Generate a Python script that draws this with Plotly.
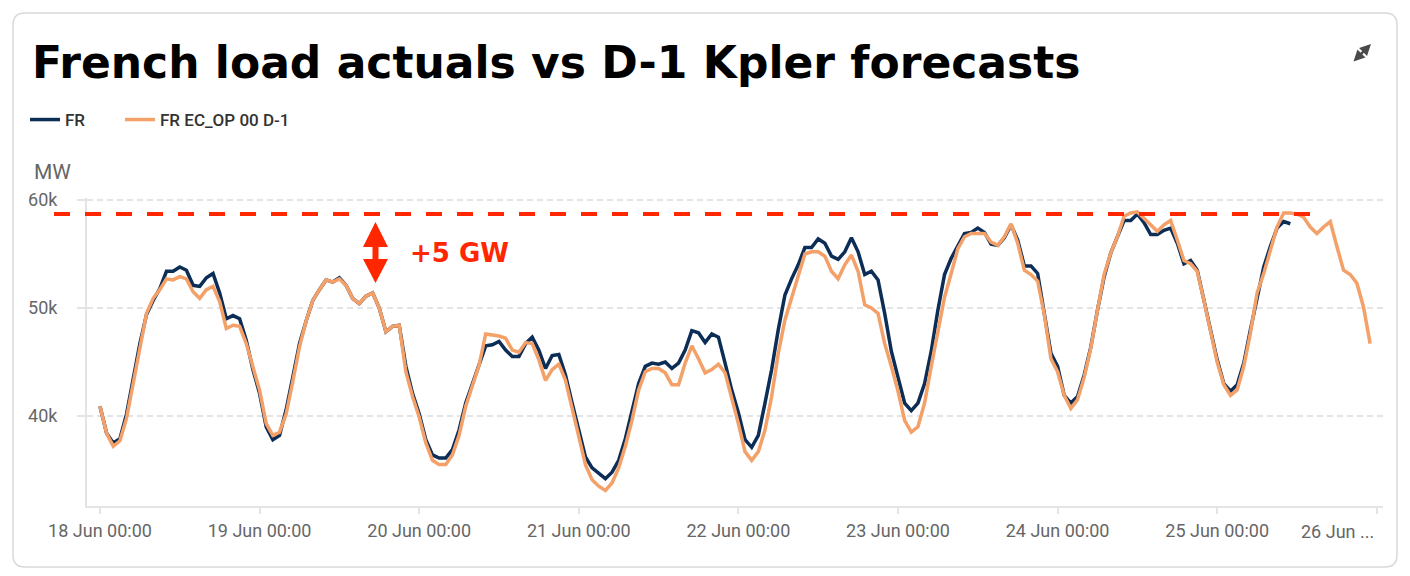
import pandas as pd
import plotly.graph_objects as go

# ---------------- data (MW, hourly from 18 Jun 00:00) ----------------
START = "2025-06-18 00:00"

FR_ACTUAL = [
    40900, 38400, 37500, 37900, 40200, 43600, 46700, 49400, 50700, 51800, 53400, 53400,
    53800, 53500, 52100, 52000, 52800, 53200, 51400, 49000, 49300, 49000, 47000, 44300,
    42100, 39000, 37800, 38200, 40600, 43600, 46700, 48800, 50700, 51700, 52600, 52400,
    52800, 52100, 50900, 50400, 51100, 51400, 50000, 47800, 48300, 48400, 44600, 42100,
    40200, 37800, 36400, 36100, 36100, 36900, 38700, 41200, 43000, 44600, 46500, 46600,
    46900, 46100, 45500, 45500, 46700, 47300, 46100, 44400, 45600, 45700, 43800, 41200,
    38700, 36200, 35200, 34700, 34200, 34800, 35900, 37900, 40600, 43000, 44600, 44900,
    44800, 45000, 44400, 44900, 46100, 47900, 47700, 46800, 47600, 47300, 44900, 42400,
    40300, 37800, 37100, 38200, 41200, 44300, 48000, 51200, 52700, 54000, 55600, 55600,
    56400, 56000, 54800, 54500, 55200, 56500, 55200, 53100, 53400, 52600, 49500, 46000,
    43600, 41200, 40500, 41200, 43000, 46000, 49800, 53100, 54600, 55800, 56900, 57000,
    57400, 57000, 55900, 55800, 56500, 57700, 56300, 53900, 53900, 53200, 49500, 45800,
    44600, 41900, 41200, 41800, 43800, 46400, 49800, 52900, 55100, 56500, 58100, 58100,
    58700, 57900, 56800, 56800, 57200, 57400, 56000, 54100, 54400, 53500, 50700, 47700,
    45200, 43000, 42300, 42900, 44900, 48000, 51000, 53800, 55700, 57400, 58000, 57800,
]

FR_FORECAST_D1 = [
    40900, 38400, 37200, 37700, 39800, 43000, 46600, 49500, 50900, 51700, 52700, 52600,
    52900, 52700, 51500, 50900, 51700, 52000, 50600, 48100, 48400, 48300, 46700, 44400,
    42400, 39300, 38200, 38500, 40200, 43200, 46400, 48800, 50700, 51700, 52600, 52400,
    52700, 52100, 50900, 50400, 51100, 51400, 50000, 47800, 48300, 48400, 44100, 41800,
    39900, 37500, 35900, 35500, 35500, 36400, 38200, 40900, 42900, 44700, 47600, 47500,
    47400, 47200, 46100, 45900, 46800, 46700, 45200, 43300, 44300, 44800, 43300, 40700,
    38200, 35500, 34100, 33500, 33100, 33800, 35200, 37200, 39600, 42400, 44100, 44400,
    44400, 44000, 42900, 42900, 44900, 46500, 45300, 44000, 44300, 44800, 44000, 41800,
    39300, 36700, 35900, 36700, 38700, 41800, 45800, 48900, 51000, 52900, 55000, 55200,
    55200, 54800, 53400, 52700, 54000, 54900, 53400, 50300, 50000, 49500, 46700, 44600,
    42300, 39600, 38500, 39000, 41200, 44600, 48000, 51000, 53200, 55500, 56600, 56900,
    56900, 56900, 56100, 55800, 56600, 57800, 56000, 53500, 53100, 52500, 49400, 45300,
    44100, 41900, 40700, 41500, 43600, 46300, 49800, 53100, 55100, 56600, 58500, 58800,
    58900, 58300, 57600, 57100, 57700, 58100, 56300, 54400, 54100, 53400, 50700, 47800,
    45000, 42900, 41900, 42400, 44600, 47700, 51400, 53200, 55400, 57500, 58800, 58800,
    58700, 58400, 57500, 56900, 57500, 58000, 55700, 53500, 53100, 52300, 50100, 46700,
]

SERIES_NAMES = ["FR", "FR EC_OP 00 D-1"]
TICK_DATES = ["2025-06-18", "2025-06-19", "2025-06-20", "2025-06-21", "2025-06-22",
              "2025-06-23", "2025-06-24", "2025-06-25", "2025-06-26"]
TICK_LABELS = ["18 Jun 00:00", "19 Jun 00:00", "20 Jun 00:00", "21 Jun 00:00",
               "22 Jun 00:00", "23 Jun 00:00", "24 Jun 00:00", "25 Jun 00:00", ""]
LAST_TICK_LABEL = "26 Jun ..."
Y_TICKS = [40000, 50000, 60000]
REF_LEVEL = 58700          # dashed red reference level (MW)
ANNOT_TEXT = "+5 GW"
TITLE = "French load actuals vs D-1 Kpler forecasts"

# ---------------- layout geometry ----------------
W, H = 1410, 576
PL, PR, PT, PB = 87, 1383, 198, 506          # plot area in px
Y_RANGE = [31667, 60185]
X_RANGE = ["2025-06-17 22:03", "2025-06-26 00:56"]

def fx(px):
    return (px - PL) / (PR - PL)

def fy(py):
    return (PB - py) / (PB - PT)

def vy(v):
    return (v - Y_RANGE[0]) / (Y_RANGE[1] - Y_RANGE[0])

NAVY = "#0c2d56"
ORANGE = "#f3a069"
RED = "#ff2600"
GRID = "#e4e4e4"
TXT = "#666666"

t_act = pd.date_range(START, periods=len(FR_ACTUAL), freq="h")
t_fc = pd.date_range(START, periods=len(FR_FORECAST_D1), freq="h")

fig = go.Figure()
fig.add_trace(go.Scatter(x=t_act, y=FR_ACTUAL, mode="lines", name=SERIES_NAMES[0],
                         line=dict(color=NAVY, width=3.5), legend="legend"))
fig.add_trace(go.Scatter(x=t_fc, y=FR_FORECAST_D1, mode="lines", name=SERIES_NAMES[1],
                         line=dict(color=ORANGE, width=3.5), legend="legend2"))

# ---------------- shapes ----------------
shapes = []
# card border (rounded rectangle)
x0, x1, y0, y1, r = 13, 1397, 13, 567, 12
pts = [
    ("M", (x0 + r, y0)), ("L", (x1 - r, y0)), ("Q", (x1, y0), (x1, y0 + r)),
    ("L", (x1, y1 - r)), ("Q", (x1, y1), (x1 - r, y1)), ("L", (x0 + r, y1)),
    ("Q", (x0, y1), (x0, y1 - r)), ("L", (x0, y0 + r)), ("Q", (x0, y0), (x0 + r, y0)),
]
path = ""
for p in pts:
    cmd = p[0]
    coords = " ".join(f"{fx(a):.5f},{fy(b):.5f}" for a, b in p[1:])
    path += f"{cmd}{coords} "
path += "Z"
shapes.append(dict(type="path", xref="paper", yref="paper", path=path,
                   line=dict(color="#d9d9d9", width=1.5), fillcolor="rgba(0,0,0,0)",
                   layer="below"))

# dashed red reference line
shapes.append(dict(type="line", xref="paper", yref="paper",
                   x0=fx(54), x1=fx(1310), y0=vy(REF_LEVEL), y1=vy(REF_LEVEL),
                   line=dict(color=RED, width=4, dash="16px,15px"), layer="above"))

# double-headed vertical arrow
cx = 375.5
hw, sw = 12.5, 3
ytop, yhb1, yhb2, ybot = 222, 247, 259, 283
arrow_pts = [(cx, ytop), (cx + hw, yhb1), (cx + sw, yhb1), (cx + sw, yhb2), (cx + hw, yhb2),
             (cx, ybot), (cx - hw, yhb2), (cx - sw, yhb2), (cx - sw, yhb1), (cx - hw, yhb1)]
apath = "M" + " L".join(f"{fx(a):.5f},{fy(b):.5f}" for a, b in arrow_pts) + " Z"
shapes.append(dict(type="path", xref="paper", yref="paper", path=apath,
                   line=dict(color=RED, width=0), fillcolor=RED, layer="above"))

# ---------------- annotations ----------------
annotations = [
    dict(text="MW", xref="paper", yref="paper", x=fx(32), y=fy(172), xanchor="left",
         yanchor="middle", showarrow=False, font=dict(family="Roboto", size=21, color=TXT)),
    dict(text=f"<b>{ANNOT_TEXT}</b>", xref="paper", yref="paper", x=fx(408), y=fy(253),
         xanchor="left", yanchor="middle", showarrow=False,
         font=dict(family="DejaVu Sans", size=26, color=RED)),
    dict(text=LAST_TICK_LABEL, xref="paper", yref="paper", x=fx(1376), y=fy(531),
         xanchor="right", yanchor="middle", showarrow=False,
         font=dict(family="Roboto", size=18, color=TXT)),
    # expand icon
    dict(text="", xref="paper", yref="paper", x=fx(1371), y=fy(44), ax=-19, ay=19,
         showarrow=True, arrowhead=2, arrowside="end+start", arrowsize=0.9,
         arrowwidth=2.5, arrowcolor="#4a4a4a"),
]

legend_common = dict(orientation="h", yanchor="middle", xanchor="left",
                     font=dict(family="Roboto", size=17, color="#333333", weight=500),
                     bgcolor="rgba(0,0,0,0)", itemwidth=30)

fig.update_layout(
    width=W, height=H, autosize=False,
    margin=dict(l=PL, r=W - PR, t=PT, b=H - PB, pad=0),
    paper_bgcolor="white", plot_bgcolor="white",
    title=dict(text=TITLE, x=32 / W, xref="container", xanchor="left",
               y=1 - 63 / H, yref="container", yanchor="middle",
               font=dict(family="DejaVu Sans", size=44, color="#000000", weight="bold")),
    showlegend=True,
    legend=dict(x=fx(25), y=fy(120), **legend_common),
    legend2=dict(x=fx(120), y=fy(120), **legend_common),
    xaxis=dict(type="date", range=X_RANGE, tickvals=TICK_DATES, ticktext=TICK_LABELS,
               showgrid=False, zeroline=False, showline=True, linecolor=GRID, linewidth=2,
               ticks="outside", ticklen=6, tickwidth=2, tickcolor=GRID,
               tickfont=dict(family="Roboto", size=18, color=TXT), ticklabelstandoff=1),
    yaxis=dict(range=Y_RANGE, tickvals=Y_TICKS, tickformat="~s",
               showgrid=True, gridcolor=GRID, gridwidth=1.5, griddash="6px,4px",
               zeroline=False, showline=True, linecolor=GRID, linewidth=2,
               ticks="outside", ticklen=8, tickwidth=1.5, tickcolor=GRID,
               tickfont=dict(family="Roboto", size=18, color=TXT), ticklabelstandoff=16),
    shapes=shapes,
    annotations=annotations,
    hovermode="x unified",
)

fig.write_html("out.html")
